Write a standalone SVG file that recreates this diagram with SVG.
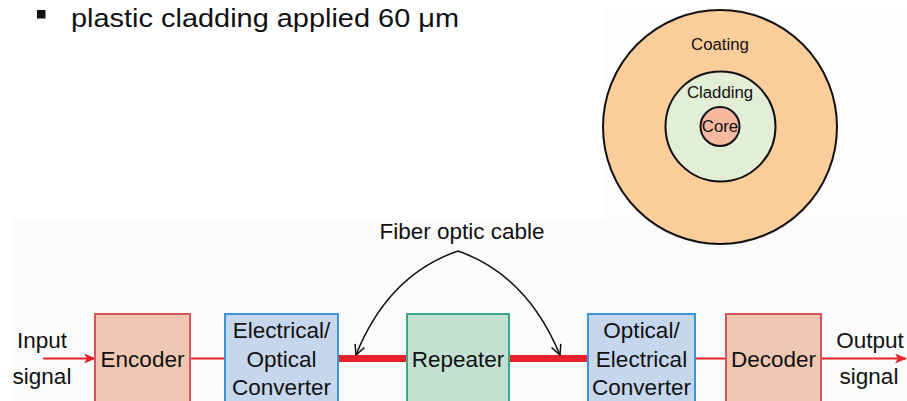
<svg xmlns="http://www.w3.org/2000/svg" width="907" height="401" viewBox="0 0 907 401">
<defs>
<style>
text{font-family:"Liberation Sans",Arial,sans-serif;fill:#111}
.lbl{font-size:22.5px}
.box{stroke-width:2}
.enc{fill:#efc7b3;stroke:#d6545c}
.conv{fill:#c6d6ed;stroke:#3c96d6}
.rep{fill:#c3e0d3;stroke:#3aa98b}
.thin{stroke:#e8202a;stroke-width:2;fill:none}
.thick{stroke:#e8202a;stroke-width:7;fill:none}
.curve{stroke:#111;stroke-width:1.5;fill:none;marker-end:url(#open)}
.ring{stroke:#111;stroke-width:2}
.ctext{font-size:16.8px;text-anchor:middle}
</style>
<marker id="open" viewBox="0 0 12 12" refX="11" refY="6" markerWidth="12" markerHeight="12" markerUnits="userSpaceOnUse" orient="auto">
<path d="M1,1 L11,6 L1,11" fill="none" stroke="#111" stroke-width="1.5"/>
</marker>
<marker id="redhead" viewBox="0 0 12 10" refX="11" refY="5" markerWidth="12" markerHeight="10" markerUnits="userSpaceOnUse" orient="auto">
<path d="M0,0 L12,5 L0,10 L3,5 Z" fill="#e8202a"/>
</marker>
</defs>
<rect x="0" y="0" width="907" height="401" fill="#ffffff"/>
<rect x="12" y="220" width="895" height="181" fill="#fbfbfb"/>
<rect x="603" y="8" width="304" height="212" fill="#fdfdfd"/>

<g id="bullet-text">
<rect x="37" y="10" width="8.5" height="8.5" fill="#111"/>
<text x="71" y="27" font-size="25" textLength="388" lengthAdjust="spacingAndGlyphs">plastic cladding applied 60 μm</text>
</g>

<g id="fiber-cross-section">
<circle cx="720" cy="127" r="117" fill="#fbcd9a" class="ring"/>
<circle cx="720.5" cy="126.5" r="55" fill="#e2eed5" class="ring"/>
<circle cx="720" cy="126.5" r="19.5" fill="#f7b8a0" class="ring"/>
<text class="ctext" x="720" y="49.5">Coating</text>
<text class="ctext" x="720" y="98">Cladding</text>
<text class="ctext" x="720" y="132">Core</text>
</g>

<g id="connectors">
<line class="thin" x1="43" y1="358.5" x2="95" y2="358.5" marker-end="url(#redhead)"/>
<line class="thin" x1="190" y1="358.5" x2="225" y2="358.5"/>
<line class="thick" x1="338" y1="358.5" x2="407" y2="358.5"/>
<line class="thick" x1="509" y1="358.5" x2="588" y2="358.5"/>
<line class="thin" x1="695" y1="358.5" x2="726" y2="358.5"/>
<line class="thin" x1="821" y1="358.5" x2="906" y2="358.5" marker-end="url(#redhead)"/>
<path class="curve" d="M458,251 Q388,275 356,355"/>
<path class="curve" d="M458,251 Q527,275 560,355"/>
</g>

<g id="label-fiber"><text class="lbl" x="462" y="239" text-anchor="middle">Fiber optic cable</text></g>
<g id="label-input">
<text class="lbl" x="42" y="348" text-anchor="middle">Input</text>
<text class="lbl" x="42" y="384" text-anchor="middle">signal</text>
</g>
<g id="label-output">
<text class="lbl" x="870" y="348" text-anchor="middle">Output</text>
<text class="lbl" x="869" y="384" text-anchor="middle">signal</text>
</g>

<g id="encoder">
<rect class="box enc" x="95" y="314" width="95" height="100"/>
<text class="lbl" x="142.5" y="367" text-anchor="middle">Encoder</text>
</g>
<g id="eo-converter">
<rect class="box conv" x="225" y="314" width="113" height="100"/>
<text class="lbl" x="281.5" y="338" text-anchor="middle">Electrical/</text>
<text class="lbl" x="281.5" y="367" text-anchor="middle">Optical</text>
<text class="lbl" x="281.5" y="395" text-anchor="middle">Converter</text>
</g>
<g id="repeater">
<rect class="box rep" x="407" y="314" width="102" height="100"/>
<text class="lbl" x="458" y="367" text-anchor="middle">Repeater</text>
</g>
<g id="oe-converter">
<rect class="box conv" x="588" y="314" width="107" height="100"/>
<text class="lbl" x="641.5" y="338" text-anchor="middle">Optical/</text>
<text class="lbl" x="641.5" y="367" text-anchor="middle">Electrical</text>
<text class="lbl" x="641.5" y="395" text-anchor="middle">Converter</text>
</g>
<g id="decoder">
<rect class="box enc" x="726" y="314" width="95" height="100"/>
<text class="lbl" x="773.5" y="367" text-anchor="middle">Decoder</text>
</g>
</svg>
